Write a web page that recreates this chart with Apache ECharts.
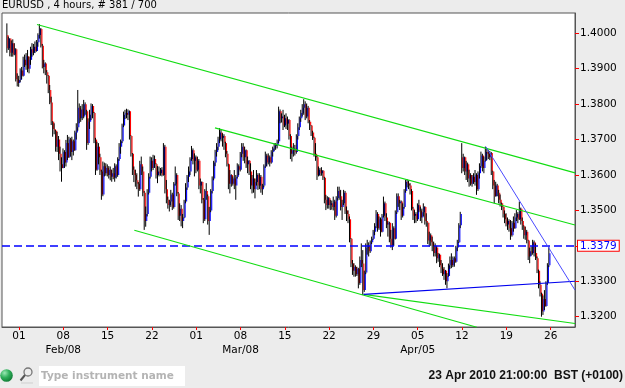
<!DOCTYPE html>
<html><head><meta charset="utf-8">
<script src="https://cdn.jsdelivr.net/npm/echarts@6/dist/echarts.min.js"></script>
<style>html,body{margin:0;padding:0;background:#ececec;}#c{width:625px;height:388px;}</style>
</head><body><div id="c"></div>
<script>
// ---- text ----
const chartTitle = 'EURUSD , 4 hours, # 381 / 700';
const weekTicks = ['01','08','15','22','01','08','15','22','29','05','12','19','26'];
const monthTicks = ['','Feb/08','','','','Mar/08','','','','Apr/05','','',''];
const priceTicks = [1.32,1.33,1.34,1.35,1.36,1.37,1.38,1.39,1.40];
const lastPrice = 1.3379;
const placeholder = 'Type instrument name';
const timeText = '23 Apr 2010 21:00:00  BST (+0100)';

// ---- 4-hour OHLC bars, in pips above 1.3000: [open, high, low, close] ----
const barsJan28 = [[995,1028,945,958],[958,991,953,985],[985,986,935,945],[945,980,934,972],[972,983,934,940],[940,972,938,955],[955,958,864,870],[870,887,850,860]];
const barsFeb01 = [[860,880,849,868],[868,901,862,895],[895,905,870,880],[880,934,878,925],[925,940,905,910],[910,944,897,935],[935,953,890,900],[900,934,887,925],[925,962,911,955],[955,972,934,945],
[945,970,938,962],[962,977,944,950],[950,981,948,975],[975,1000,962,995],[995,1026,985,1012],[1012,1015,960,965],[965,970,901,905],[905,925,887,915],[915,918,882,890],[890,896,858,880],
[880,882,831,840],[840,854,800,805],[805,821,741,750],[750,752,708,730],[730,746,715,725],[725,727,666,680],[680,722,665,700],[700,710,642,660],[660,680,610,630],[630,650,581,620]];
const barsFeb08 = [[620,675,619,665],[665,670,620,635],[635,699,624,690],[690,713,642,650],[650,708,648,700],[700,705,652,665],[665,708,642,695],[695,700,655,670],[670,725,668,720],[720,746,700,735],
[735,840,725,790],[790,802,746,760],[760,795,750,785],[785,800,755,765],[765,812,760,800],[800,805,770,780],[780,784,671,690],[690,760,685,750],[750,784,730,770],[770,802,755,795],
[795,800,760,775],[775,778,690,700],[700,705,600,615],[615,694,612,680],[680,690,630,650],[650,660,600,610],[610,615,530,545],[545,638,540,625],[625,635,596,605],[605,633,598,620]];
const barsFeb15 = [[620,630,596,600],[600,625,590,615],[615,624,585,595],[595,615,581,605],[605,620,588,592],[592,633,581,625],[625,630,590,600],[600,650,595,645],[645,690,640,680],[680,700,660,695],
[695,745,690,740],[740,779,735,770],[770,784,758,775],[775,787,760,770],[770,785,755,780],[780,782,700,710],[710,712,652,660],[660,662,600,615],[615,624,580,600],[600,615,567,585],
[585,605,560,575],[575,580,539,560],[560,640,555,630],[630,652,600,610],[610,624,540,550],[550,555,445,470],[470,511,454,490],[490,560,483,550],[550,605,545,595],[595,652,590,640]];
const barsFeb22 = [[640,650,610,620],[620,657,614,645],[645,655,620,630],[630,633,590,600],[600,625,577,610],[610,624,596,605],[605,620,598,615],[615,622,596,600],[600,690,598,680],[680,685,548,560],
[560,586,520,530],[530,539,505,515],[515,530,497,525],[525,558,510,545],[545,550,501,510],[510,580,505,575],[575,624,570,600],[600,605,540,548],[548,552,473,485],[485,520,470,505],
[505,515,455,470],[470,490,450,480],[480,530,478,525],[525,577,520,565],[565,600,558,595],[595,624,580,610],[610,650,600,645],[645,682,640,670],[670,675,630,640],[640,661,596,650]];
const barsMar01 = [[650,655,605,615],[615,652,610,640],[640,645,560,570],[570,590,548,580],[580,582,520,530],[530,535,464,475],[475,560,470,555],[555,577,530,540],[540,545,460,470],[470,510,431,500],
[500,560,495,555],[555,596,548,590],[590,640,585,635],[635,671,625,665],[665,690,652,680],[680,708,670,700],[700,732,690,720],[720,728,695,705],[705,718,680,710],[710,715,671,690],
[690,694,650,660],[660,668,624,630],[630,632,560,575],[575,614,548,600],[600,602,567,575],[575,596,570,590],[590,614,560,570],[570,600,530,595],[595,633,590,625],[625,630,600,615]];
const barsMar08 = [[615,665,610,660],[660,690,650,680],[680,690,640,650],[650,680,633,670],[670,672,620,630],[630,652,605,640],[640,642,600,610],[610,633,560,570],[570,600,548,590],[590,614,550,560],
[560,590,534,580],[580,614,570,600],[600,605,558,570],[570,605,560,595],[595,600,550,560],[560,575,544,570],[570,630,565,625],[625,666,620,655],[655,660,624,635],[635,661,630,650],
[650,655,624,635],[635,670,632,665],[665,680,652,675],[675,690,668,682],[682,690,671,685],[685,700,675,695],[695,793,690,780],[780,785,746,760],[760,774,748,765],[765,784,727,740]];
const barsMar15 = [[740,770,735,760],[760,774,730,745],[745,765,727,755],[755,758,700,710],[710,715,645,660],[660,680,638,670],[670,690,652,675],[675,685,655,665],[665,715,660,710],[710,746,700,735],
[735,765,727,760],[760,784,750,775],[775,800,765,790],[790,814,770,800],[800,808,755,765],[765,802,760,790],[790,795,746,750],[750,755,727,740],[740,741,710,720],[720,725,699,705],
[705,708,652,660],[660,690,640,650],[650,655,586,600],[600,624,596,615],[615,620,597,605],[605,622,598,612],[612,614,586,592],[592,595,520,530],[530,544,501,515],[515,540,505,535]];
const barsMar22 = [[535,538,505,515],[515,530,501,520],[520,528,502,510],[510,539,500,525],[525,530,473,485],[485,540,480,535],[535,567,528,555],[555,567,530,540],[540,558,500,510],[510,530,473,520],
[520,558,515,550],[550,555,490,500],[500,511,470,490],[490,500,464,475],[475,483,410,420],[420,422,340,350],[350,360,318,330],[330,351,313,340],[340,345,313,320],[320,341,315,335],
[335,338,280,295],[295,370,290,360],[360,407,340,350],[350,388,261,275],[275,330,270,325],[325,407,320,395],[395,417,375,400],[400,410,370,385],[385,415,380,410],[410,426,405,420]];
const barsMar29 = [[420,445,417,440],[440,464,430,455],[455,501,450,490],[490,495,440,450],[450,483,445,475],[475,480,426,440],[440,490,438,485],[485,539,480,520],[520,525,470,480],[480,492,450,460],
[460,470,426,465],[465,468,410,420],[420,445,395,400],[400,464,388,450],[450,455,400,420],[420,500,418,495],[495,548,490,540],[540,548,510,520],[520,530,501,525],[525,528,473,485],
[485,520,480,510],[510,560,505,555],[555,586,550,580],[580,588,565,575],[575,585,560,570],[570,577,545,555],[555,560,500,505],[505,510,473,485],[485,501,464,490],[490,495,465,475]];
const barsApr05 = [[475,520,470,515],[515,530,495,500],[500,511,470,480],[480,505,464,495],[495,520,483,510],[510,512,460,470],[470,492,454,465],[465,466,405,415],[415,440,398,430],[430,435,400,410],
[410,426,385,400],[400,412,370,380],[380,407,370,395],[395,400,351,365],[365,380,355,375],[375,378,340,345],[345,360,323,335],[335,351,315,320],[320,340,304,330],[330,332,290,300],
[300,323,280,315],[315,350,313,345],[345,370,335,360],[360,379,337,345],[345,370,340,365],[365,370,341,355],[355,400,352,395],[395,417,385,410],[410,464,408,458],[458,496,450,490]];
const barsApr12 = [[650,690,605,620],[620,660,610,650],[650,652,600,610],[610,640,586,630],[630,635,580,590],[590,615,567,600],[600,605,570,575],[575,600,567,595],[595,605,575,580],[580,614,570,600],
[600,605,544,560],[560,610,555,605],[605,633,590,625],[625,666,620,655],[655,660,610,620],[620,652,605,640],[640,680,638,665],[665,675,642,660],[660,671,645,650],[650,668,642,662],
[662,665,600,610],[610,612,560,570],[570,586,520,540],[540,581,539,570],[570,575,540,550],[550,558,520,530],[530,545,511,520],[520,522,501,510],[510,511,480,490],[490,500,464,475]];
const barsApr19 = [[475,492,455,460],[460,480,445,470],[470,475,440,450],[450,473,417,430],[430,470,426,465],[465,483,440,450],[450,492,448,480],[480,501,470,490],[490,495,464,475],[475,525,473,505],
[505,508,460,470],[470,480,445,455],[455,458,420,430],[430,454,417,440],[440,445,407,415],[415,417,360,370],[370,395,351,385],[385,398,372,380],[380,417,375,410],[410,415,370,380],
[380,407,360,365],[365,370,323,330],[330,333,280,290],[290,300,257,265],[265,268,200,215],[215,260,205,250],[250,275,219,230],[230,300,228,295],[295,351,290,345],[345,398,340,379]];

// ---- drawn trend lines: [bar index, price] anchor points ----
const upperChannel = [[23.2, 1.4025], [387.5, 1.3606]];
const middleChannel = [[143.7, 1.3733], [387.5, 1.3459]];
const lowerChannel = [[89.1, 1.3444], [321, 1.3170]];
const lowerFan = [[244.4, 1.3263], [387.5, 1.3181]];
const supportLine = [[244.4, 1.3263], [387.5, 1.3300]];
const resistLine = [[327.1, 1.3680], [387.5, 1.3275]];

// ---- slot layout (category axis) ----
const weeks = [barsJan28, barsFeb01, barsFeb08, barsFeb15, barsFeb22, barsMar01, barsMar08, barsMar15, barsMar22, barsMar29, barsApr05, barsApr12, barsApr19];
const firstBarSlot = 3, firstTickSlot = 11, barsPerWeek = 30, totalSlots = 388;

const toPrice = p => 1.3 + p / 10000;
const candles = [];
let slot = firstBarSlot;
weeks.forEach(w => w.forEach(b => { candles.push([slot, toPrice(b[0]), toPrice(b[1]), toPrice(b[2]), toPrice(b[3])]); slot++; }));

const cats = [];
for (let i = 0; i < totalSlots; i++) cats.push(String(i));
const isTick = i => i >= firstTickSlot && (i - firstTickSlot) % barsPerWeek === 0;

const chart = echarts.init(document.getElementById('c'), null, {renderer: 'canvas'});
const FONT = 'DejaVu Sans';

function trend(data, color, width) {
  return {type: 'line', xAxisIndex: 1, yAxisIndex: 0, data: data, symbol: 'none', silent: true, clip: true,
    lineStyle: {color: color, width: width || 1}, z: 5};
}

chart.setOption({
  animation: false,
  backgroundColor: '#ececec',
  grid: {left: 2, right: 50, top: 13, bottom: 61, show: true, backgroundColor: '#ffffff', borderColor: '#555', borderWidth: 1},
  xAxis: [{
    type: 'category', data: cats, boundaryGap: true,
    axisLine: {onZero: false, lineStyle: {color: '#555', width: 1}},
    axisTick: {show: true, interval: i => isTick(i), alignWithLabel: true, length: 3, lineStyle: {color: '#ff0000'}},
    axisLabel: {interval: i => isTick(i), margin: 2, fontSize: 10.5, fontFamily: FONT, color: '#000', lineHeight: 14,
      formatter: (v, i) => { const k = (i - firstTickSlot) / barsPerWeek; return weekTicks[k] + (monthTicks[k] ? '\n' + monthTicks[k] : ''); }},
    splitLine: {show: false}
  }, {
    type: 'value', min: -0.5, max: totalSlots - 0.5, show: false,
    axisLine: {onZero: false}
  }],
  yAxis: {
    type: 'value', position: 'right', min: 1.31709, max: 1.40573, scale: true,
    axisLine: {show: true, onZero: false, lineStyle: {color: '#555', width: 1}},
    axisTick: {show: true, inside: false, customValues: priceTicks, length: 4, lineStyle: {color: '#ff0000'}},
    axisLabel: {customValues: priceTicks, margin: 5, fontSize: 10.5, fontFamily: FONT, color: '#000', formatter: v => v.toFixed(4)},
    splitLine: {show: false}
  },
  series: [
    {
      type: 'custom', xAxisIndex: 0, yAxisIndex: 0, data: candles, encode: {x: 0, y: [1, 2, 3, 4]}, z: 3, silent: true,
      renderItem: (params, api) => {
        const i = api.value(0), o = api.value(1), h = api.value(2), l = api.value(3), c = api.value(4);
        const ph = api.coord([i, h]), pl = api.coord([i, l]), po = api.coord([i, o]), pc = api.coord([i, c]);
        const x = ph[0];
        const up = c >= o;
        const top = Math.min(po[1], pc[1]);
        const hh = Math.max(1, Math.abs(po[1] - pc[1]));
        return {type: 'group', children: [
          {type: 'line', shape: {x1: x - 0.3, y1: ph[1], x2: x - 0.3, y2: pl[1]}, style: {stroke: '#000', lineWidth: 1}},
          {type: 'rect', shape: {x: x + 0.2, y: top, width: 1.1, height: hh}, style: {fill: up ? '#0000ff' : '#ff0000'}}
        ]};
      }
    },
    trend(upperChannel, '#11dd11', 1.1),
    trend(middleChannel, '#11dd11', 1.1),
    trend(lowerChannel, '#11dd11', 1.1),
    trend(lowerFan, '#11dd11', 1.1),
    trend(supportLine, '#0000ee', 1.1),
    trend(resistLine, '#4a4aff'),
    {
      type: 'line', xAxisIndex: 1, yAxisIndex: 0, data: [], symbol: 'none', silent: true, z: 6,
      markLine: {
        silent: true, symbol: 'none', animation: false,
        lineStyle: {color: '#0000ff', type: [8, 4], width: 1.5},
        label: {show: true, position: 'end', distance: 3, formatter: () => lastPrice.toFixed(4), color: '#0000ff',
          fontFamily: FONT, fontSize: 10.5, backgroundColor: '#ffffff', borderColor: '#ff0000', borderWidth: 1, padding: [0, 2, 0, 2], lineHeight: 10},
        data: [{yAxis: lastPrice}]
      }
    }
  ],
  graphic: [
    {type: 'text', left: 2, top: 0, style: {text: chartTitle, font: '10px "DejaVu Sans"', fill: '#000'}},
    {type: 'circle', shape: {cx: 6.5, cy: 375.5, r: 6.3},
      style: {fill: new echarts.graphic.RadialGradient(0.35, 0.3, 0.75, [{offset: 0, color: '#9be8b4'}, {offset: 0.5, color: '#2fae5a'}, {offset: 1, color: '#0f7a34'}])}},
    {type: 'circle', shape: {cx: 28, cy: 372, r: 4}, style: {fill: 'none', stroke: '#777', lineWidth: 1.3}},
    {type: 'line', shape: {x1: 25, y1: 375, x2: 20.5, y2: 380.5}, style: {stroke: '#555', lineWidth: 2}},
    {type: 'line', shape: {x1: 21, y1: 383, x2: 33, y2: 383}, style: {stroke: '#cfcfcf', lineWidth: 1}},
    {type: 'rect', shape: {x: 39, y: 366, width: 146, height: 20}, style: {fill: '#ffffff'}},
    {type: 'text', x: 41, y: 376, style: {text: placeholder, font: 'bold 10.5px "DejaVu Sans"', fill: '#b4b4b4', verticalAlign: 'middle'}},
    {type: 'text', x: 623, y: 376, style: {text: timeText, font: 'bold 12px "Liberation Sans"', fill: '#111', align: 'right', verticalAlign: 'middle'}}
  ]
});
</script>
</body></html>
